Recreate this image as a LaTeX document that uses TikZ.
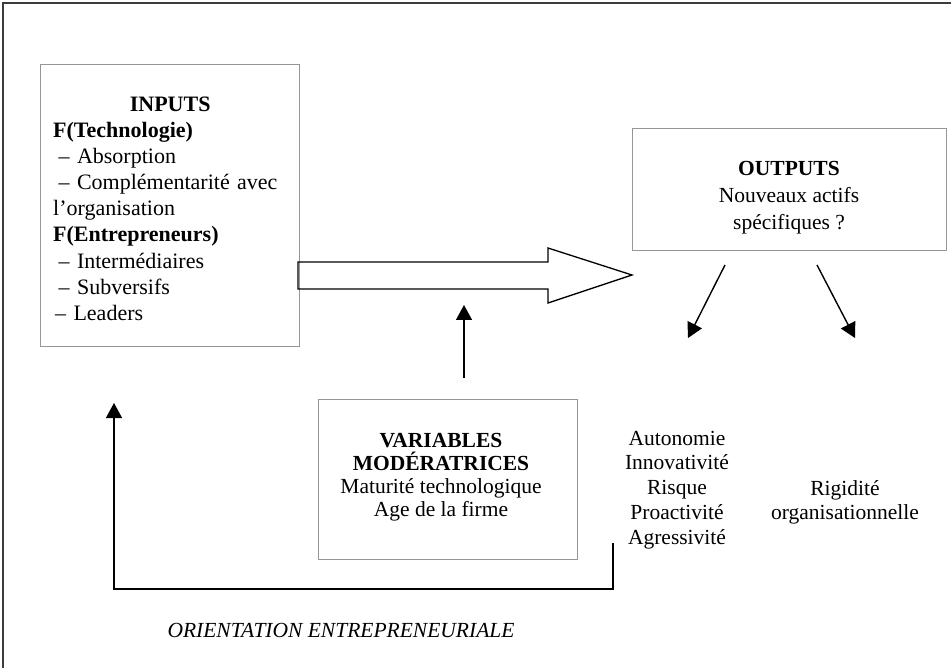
\documentclass[tikz,border=0pt]{standalone}
\usepackage{fontspec}
\setmainfont{Liberation Serif}
\usetikzlibrary{arrows.meta}
\definecolor{boxgray}{RGB}{150,150,150}
\definecolor{framegray}{RGB}{60,60,60}
\begin{document}
\begin{tikzpicture}[x=1pt,y=-1pt,
  box/.style={draw=boxgray,line width=1pt,inner sep=0pt},
  txt/.style={inner sep=0pt,font=\fontsize{21.5}{23}\selectfont},
  arr/.style={line width=1.4pt,-{Triangle[length=15pt,width=16pt]}},
  conn/.style={line width=1.4pt}]
\useasboundingbox (0,0) rectangle (951,668);
\draw[framegray,line width=1.6pt] (3,668) -- (3,3) -- (951,3);
% boxes
\node[box,minimum width=259pt,minimum height=282pt] (inputs) at (169.5,206) {};
\node[box,minimum width=314pt,minimum height=122pt] (outputs) at (789,190) {};
\node[box,minimum width=259pt,minimum height=159pt] (vars) at (447.5,479.5) {};
% box texts
\node[txt,anchor=north west,text width=234pt,align=left,
      font=\fontsize{22}{26.1}\selectfont] (inputstxt) at (53,96.7)
  {\makebox[\linewidth]{\textbf{INPUTS}}\\
   \textbf{F(Technologie)}\\
   \hspace*{5.5pt}– Absorption\\
   \hspace*{5.5pt}– Complémentarité avec\\
   l’organisation\\
   \textbf{F(Entrepreneurs)}\\
   \hspace*{5.5pt}– Intermédiaires\\
   \hspace*{5.5pt}– Subversifs\\
   \hspace*{2pt}– Leaders};
\node[txt,anchor=north,align=center,font=\fontsize{21.5}{27.3}\selectfont] (outputstxt) at (789,160.7)
  {\textbf{OUTPUTS}\\Nouveaux actifs\\spécifiques ?};
\node[txt,anchor=north,align=center] (varstxt) at (441,432.8)
  {\textbf{VARIABLES}\\\textbf{MODÉRATRICES}\\Maturité technologique\\Age de la firme};
\node[txt,anchor=north,align=center,font=\fontsize{21.5}{24.75}\selectfont] (oe) at (677,430.8)
  {Autonomie\\Innovativité\\Risque\\Proactivité\\Agressivité};
\node[txt,anchor=north,align=center,font=\fontsize{21.5}{24}\selectfont] (rig) at (845,480.3)
  {Rigidité\\organisationnelle};
\node[txt,anchor=base,font=\fontsize{21.5}{24}\selectfont\itshape] (orient) at (341,637)
  {ORIENTATION ENTREPRENEURIALE};
% big hollow arrow
\coordinate (bigstart) at (298,275);
\coordinate (bigtip) at (632,275);
\draw[line width=1.3pt,line join=miter]
  (298,262) -- (548,262) -- (548,248) -- (bigtip) -- (548,303) -- (548,289) -- (298,289) -- cycle;
% moderating arrow
\coordinate (modstart) at (464,378);
\coordinate (modend) at (464,305);
\draw[arr] (modstart) -- (modend);
% output arrows
\coordinate (o1s) at (725,265);
\coordinate (o1e) at (688,338);
\coordinate (o2s) at (817,265);
\coordinate (o2e) at (855,338);
\draw[arr] (o1s) -- (o1e);
\draw[arr] (o2s) -- (o2e);
% feedback loop
\coordinate (fbs) at (613,543);
\coordinate (fbc1) at (613,589);
\coordinate (fbc2) at (114,589);
\coordinate (fbe) at (114,403);
\draw[arr,line join=miter] (fbs) -- (fbc1) -- (fbc2) -- (fbe);
\end{tikzpicture}
\end{document}
